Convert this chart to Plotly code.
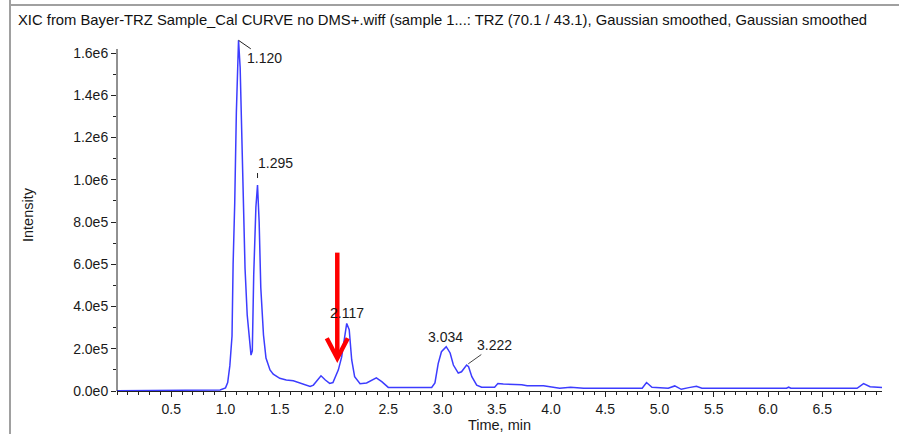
import plotly.graph_objects as go

# ---------------- data ----------------
time_min = [0.00, 0.20, 0.40, 0.60, 0.80, 0.90, 0.95, 1.00, 1.02, 1.04, 1.06, 1.07, 1.085, 1.10, 1.115,
            1.12, 1.135, 1.15, 1.165, 1.18, 1.20, 1.22, 1.235, 1.247, 1.26, 1.28, 1.295, 1.31, 1.325,
            1.35, 1.373, 1.41, 1.44, 1.50, 1.56, 1.625, 1.69, 1.78, 1.81, 1.85, 1.88, 1.92, 1.96, 1.99,
            2.04, 2.07, 2.10, 2.117, 2.14, 2.163, 2.19, 2.24, 2.30, 2.35, 2.39, 2.44, 2.50, 2.70, 2.90,
            2.93, 2.96, 2.99, 3.034, 3.07, 3.10, 3.145, 3.175, 3.222, 3.24, 3.27, 3.315, 3.36, 3.48,
            3.51, 3.56, 3.73, 3.78, 3.93, 4.08, 4.18, 4.25, 4.30, 4.84, 4.88, 4.93, 5.08, 5.14, 5.20,
            5.27, 5.34, 5.39, 6.17, 6.19, 6.21, 6.82, 6.88, 6.94, 7.05]
intensity = [1500, 1500, 1500, 1500, 1500, 2500, 5000, 15000, 40000, 120000, 260000, 600000, 890000,
             1320000, 1560000, 1660000, 1530000, 1200000, 870000, 580000, 360000, 230000, 170000,
             190000, 550000, 870000, 975000, 800000, 490000, 265000, 156000, 100000, 80000, 60000,
             52000, 48000, 38000, 22000, 28000, 55000, 72000, 52000, 36000, 40000, 100000, 160000,
             265000, 320000, 290000, 147000, 68000, 34000, 38000, 52000, 62000, 44000, 17000, 17000,
             17000, 38000, 130000, 186000, 210000, 180000, 123000, 85000, 91000, 123000, 115000,
             68000, 28000, 18000, 18000, 35000, 33000, 30000, 25000, 25000, 13000, 18000, 17000,
             13000, 13000, 40000, 18000, 13000, 24000, 8000, 16000, 22000, 13000, 13000, 18000,
             13000, 13000, 35000, 20000, 17000]

peak_times = [1.120, 1.295, 2.117, 3.034, 3.222]
peak_heights = [1660000, 975000, 320000, 210000, 123000]
peak_labels = ["1.120", "1.295", "2.117", "3.034", "3.222"]

x_tick_vals = [0.5, 1.0, 1.5, 2.0, 2.5, 3.0, 3.5, 4.0, 4.5, 5.0, 5.5, 6.0, 6.5]
x_tick_text = ["0.5", "1.0", "1.5", "2.0", "2.5", "3.0", "3.5", "4.0", "4.5", "5.0", "5.5", "6.0", "6.5"]
y_tick_vals = [0, 200000, 400000, 600000, 800000, 1000000, 1200000, 1400000, 1600000]
y_tick_text = ["0.0e0", "2.0e5", "4.0e5", "6.0e5", "8.0e5", "1.0e6", "1.2e6", "1.4e6", "1.6e6"]
y_minor_vals = [100000, 300000, 500000, 700000, 900000, 1100000, 1300000, 1500000]

title_text = ("XIC from Bayer-TRZ Sample_Cal CURVE no DMS+.wiff (sample 1...: TRZ (70.1 / 43.1), "
              "Gaussian smoothed, Gaussian smoothed")

X_MAX = 7.05
Y_MAX = 1666300      # top of plotting area (peak may exceed the drawn axis line)
Y_AXIS_TOP = 1619000  # where the visible y-axis line ends

# red arrow position in data units
red_arrow_x = 2.03
red_arrow_tip = 160000
red_arrow_tail = 655000
# blue level marker on y axis
marker_level = 95000

FONT = "Liberation Sans, Arial, sans-serif"
TXT = "#1a1a1a"
LBL = 14

fig = go.Figure()
fig.add_trace(go.Scatter(x=time_min, y=intensity, mode="lines",
                         line=dict(color="#3c3cff", width=1.5),
                         cliponaxis=False, hoverinfo="skip", showlegend=False))

W, H = 899, 434
L, R, T, B = 117, 17, 39, 43
pw, ph = W - L - R, H - T - B

def px_x(p):
    return (p - L) / pw

def px_y(p):
    return (H - B - p) / ph

fig.update_layout(
    width=W, height=H,
    margin=dict(l=L, r=R, t=T, b=B, autoexpand=False),
    paper_bgcolor="white", plot_bgcolor="white",
    font=dict(family=FONT, size=LBL, color=TXT),
    title=dict(text=title_text, xref="container", yref="container",
               x=18 / W, y=1 - 20 / H, xanchor="left", yanchor="middle",
               font=dict(family=FONT, size=14.8, color="#111")),
    showlegend=False,
)
fig.update_xaxes(range=[0, X_MAX], showgrid=False, zeroline=False,
                 showline=True, linecolor="#222", linewidth=1,
                 ticks="outside", ticklen=5, tickcolor="#222",
                 tickvals=x_tick_vals, ticktext=x_tick_text,
                 minor=dict(dtick=0.1, tick0=0, ticks="outside", ticklen=3, tickcolor="#222"),
                 tickfont=dict(size=LBL, color=TXT),
                 title=dict(text="Time, min", standoff=3, font=dict(size=14.5, color=TXT)),
                 automargin=False)
fig.update_yaxes(range=[0, Y_MAX], showgrid=False, zeroline=False,
                 showline=False,
                 ticks="outside", ticklen=5, tickcolor="#222",
                 tickvals=y_tick_vals, ticktext=y_tick_text,
                 minor=dict(tickvals=y_minor_vals, ticks="outside", ticklen=3, tickcolor="#222"),
                 tickfont=dict(size=LBL, color=TXT),
                 automargin=False)

# visible y-axis line (stops just above the 1.6e6 tick)
fig.add_shape(type="line", xref="paper", yref="y", x0=0, x1=0, y0=0, y1=Y_AXIS_TOP,
              line=dict(color="#222", width=1))

# y axis title
fig.add_annotation(text="Intensity", xref="paper", yref="paper", x=px_x(28), y=px_y(215),
                   textangle=-90, showarrow=False, font=dict(size=14.5, color=TXT),
                   xanchor="center", yanchor="middle")

# peak labels
fig.add_annotation(x=peak_times[0], y=peak_heights[0], text=peak_labels[0], showarrow=True,
                   arrowhead=0, arrowwidth=1, arrowcolor="#222", ax=26, ay=18,
                   font=dict(size=LBL, color=TXT))
fig.add_annotation(x=peak_times[1], y=peak_heights[1], text=peak_labels[1], showarrow=False,
                   xanchor="left", yanchor="middle", xshift=-2, yshift=22,
                   font=dict(size=LBL, color=TXT))
fig.add_shape(type="line", xref="x", yref="y", x0=peak_times[1], x1=peak_times[1],
              ysizemode="pixel", yanchor=peak_heights[1], y0=7, y1=12,
              line=dict(color="#222", width=1))
fig.add_annotation(x=peak_times[2], y=peak_heights[2], text=peak_labels[2], showarrow=False,
                   xanchor="center", yanchor="middle", yshift=10,
                   font=dict(size=LBL, color=TXT))
fig.add_annotation(x=peak_times[3], y=peak_heights[3], text=peak_labels[3], showarrow=False,
                   xanchor="center", yanchor="middle", xshift=-1, yshift=10,
                   font=dict(size=LBL, color=TXT))
fig.add_annotation(x=peak_times[4], y=peak_heights[4], text=peak_labels[4], showarrow=True,
                   arrowhead=0, arrowwidth=1, arrowcolor="#444", ax=28, ay=-20, standoff=2,
                   font=dict(size=LBL, color=TXT))

# red arrow: shaft + open V head
fig.add_shape(type="line", xref="x", yref="y", x0=red_arrow_x, x1=red_arrow_x,
              y0=red_arrow_tip, y1=red_arrow_tail, line=dict(color="#ff0000", width=4.5))
fig.add_shape(type="path", xref="x", yref="y", xsizemode="pixel", ysizemode="pixel",
              xanchor=red_arrow_x, yanchor=red_arrow_tip,
              path="M-10.5,19 L0,-1 L10.5,19", fillcolor="rgba(0,0,0,0)",
              line=dict(color="#ff0000", width=4.5))

# blue level marker on y axis
fig.add_shape(type="path", xref="x", yref="y", xsizemode="pixel", ysizemode="pixel",
              xanchor=0, yanchor=marker_level,
              path="M-15,-3 L-8,-3 L-8,-6 L-2,0 L-8,6 L-8,3 L-15,3 Z",
              fillcolor="#0000ff", line=dict(color="#00008b", width=1))

# window frame
fig.add_shape(type="line", xref="paper", yref="paper", x0=px_x(9), x1=px_x(W), y0=px_y(5), y1=px_y(5),
              line=dict(color="#a0a0a0", width=2))
fig.add_shape(type="line", xref="paper", yref="paper", x0=px_x(10), x1=px_x(10), y0=px_y(0), y1=px_y(H),
              line=dict(color="#a0a0a0", width=2))

fig.write_html("out.html", config={"displayModeBar": False},
               post_script="document.body.style.margin='0';document.body.style.overflow='hidden';")
